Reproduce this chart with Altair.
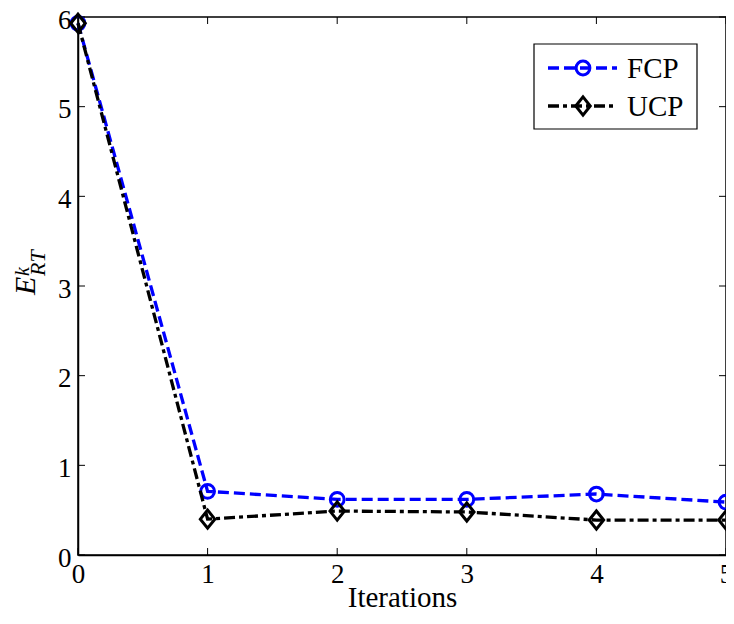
import altair as alt
import pandas as pd

iterations = [0, 1, 2, 3, 4, 5]
fcp = [5.93, 0.71, 0.62, 0.62, 0.68, 0.59]
ucp = [5.93, 0.40, 0.49, 0.48, 0.39, 0.39]
series_names = ["FCP", "UCP"]
x_ticks = [0, 1, 2, 3, 4, 5]
y_ticks = [0, 1, 2, 3, 4, 5, 6]

W, H = 648, 538
FONT = "Liberation Serif"
DIAMOND = "M-0.8,0L0,-1L0.8,0L0,1Z"

df = pd.DataFrame({"it": iterations * 2,
                   "val": fcp + ucp,
                   "series": [series_names[0]] * len(fcp) + [series_names[1]] * len(ucp)})
df_f = df[df.series == "FCP"]
df_u = df[df.series == "UCP"]

xs = alt.Scale(domain=[0, 5], nice=False, zero=False)
ys = alt.Scale(domain=[0, 6], nice=False)

xax = alt.Axis(values=x_ticks, title="Iterations", format="d", labelPadding=6, titlePadding=-4)
yax = alt.Axis(values=y_ticks, title=None, format="d", labelPadding=7, labelOffset=3)

X = alt.X("it:Q", scale=xs, axis=xax)
Y = alt.Y("val:Q", scale=ys, axis=yax)

fcp_line = alt.Chart(df_f).mark_line(color="#0000FF", strokeDash=[11, 5], strokeWidth=3.3).encode(x=X, y=Y)
fcp_pts = alt.Chart(df_f).mark_point(shape="circle", filled=False, color="#0000FF", size=190,
                                     strokeWidth=3, opacity=1).encode(x=X, y=Y)
ucp_line = alt.Chart(df_u).mark_line(color="black", strokeDash=[11, 4, 4, 4], strokeWidth=3.3).encode(x=X, y=Y)
ucp_pts = alt.Chart(df_u).mark_point(shape=DIAMOND, filled=False, color="black", size=330,
                                     strokeWidth=3, opacity=1).encode(x=X, y=Y)

# inward ticks (MATLAB style)
ydf = pd.DataFrame({"t": y_ticks})
xdf = pd.DataFrame({"t": x_ticks})
YT = alt.Y("t:Q", scale=ys, axis=yax)
XT = alt.X("t:Q", scale=xs, axis=xax)
yt_l = alt.Chart(ydf).mark_rule(color="black", strokeWidth=1).encode(y=YT, x=alt.value(0), x2=alt.value(7))
yt_r = alt.Chart(ydf).mark_rule(color="black", strokeWidth=1).encode(y=YT, x=alt.value(W - 7), x2=alt.value(W))
xt_b = alt.Chart(xdf).mark_rule(color="black", strokeWidth=1).encode(x=XT, y=alt.value(H - 7), y2=alt.value(H))
xt_t = alt.Chart(xdf).mark_rule(color="black", strokeWidth=1).encode(x=XT, y=alt.value(0), y2=alt.value(7))

one = pd.DataFrame({"a": [0]})
# y-axis label E^k_RT
lab_E = alt.Chart(one).mark_text(text="E", angle=270, align="left", baseline="middle", font=FONT,
                                 fontStyle="italic", fontSize=30, color="black").encode(x=alt.value(-52), y=alt.value(278))
lab_k = alt.Chart(one).mark_text(text="k", angle=270, align="left", baseline="middle", font=FONT,
                                 fontStyle="italic", fontSize=20, color="black").encode(x=alt.value(-55), y=alt.value(259))
lab_RT = alt.Chart(one).mark_text(text="RT", angle=270, align="left", baseline="middle", font=FONT,
                                  fontStyle="italic", fontSize=22, color="black").encode(x=alt.value(-40), y=alt.value(259))

# legend
leg_box = alt.Chart(one).mark_rect(fill="white", stroke="black", strokeWidth=1.2).encode(
    x=alt.value(456), x2=alt.value(619), y=alt.value(27), y2=alt.value(112))
leg_layers = [leg_box]
styles = [("#0000FF", [11, 5], "circle", 190), ("black", [11, 4, 4, 4], DIAMOND, 330)]
row_y = [51, 89]
for name, (col, dash, shp, sz), yy in zip(series_names, styles, row_y):
    leg_layers.append(alt.Chart(one).mark_rule(color=col, strokeDash=dash, strokeWidth=3.3).encode(
        x=alt.value(470), x2=alt.value(539), y=alt.value(yy)))
    leg_layers.append(alt.Chart(one).mark_point(shape=shp, filled=False, color=col, size=sz, strokeWidth=3, opacity=1).encode(
        x=alt.value(505), y=alt.value(yy)))
    leg_layers.append(alt.Chart(one).mark_text(text=name, align="left", baseline="middle", font=FONT,
                                               fontSize=29, color="black").encode(x=alt.value(549), y=alt.value(yy + 1)))

chart = alt.layer(fcp_line, fcp_pts, ucp_line, ucp_pts, yt_l, yt_r, xt_b, xt_t,
                  lab_E, lab_k, lab_RT, *leg_layers).properties(
    width=W, height=H,
    autosize=alt.AutoSizeParams(type="none"),
    padding={"left": 70, "top": 9, "right": 0, "bottom": 56},
    background="white",
).configure_view(stroke="black", strokeWidth=1.5).configure_axis(
    tickSize=0, grid=False, domainColor="black", domainWidth=1.5,
    labelFont=FONT, labelFontSize=27, labelColor="black", labelFlush=False,
    titleFont=FONT, titleFontSize=29, titleFontWeight="normal", titleColor="black",
)

chart.save("out.html", embed_options={"renderer": "svg", "actions": False})
